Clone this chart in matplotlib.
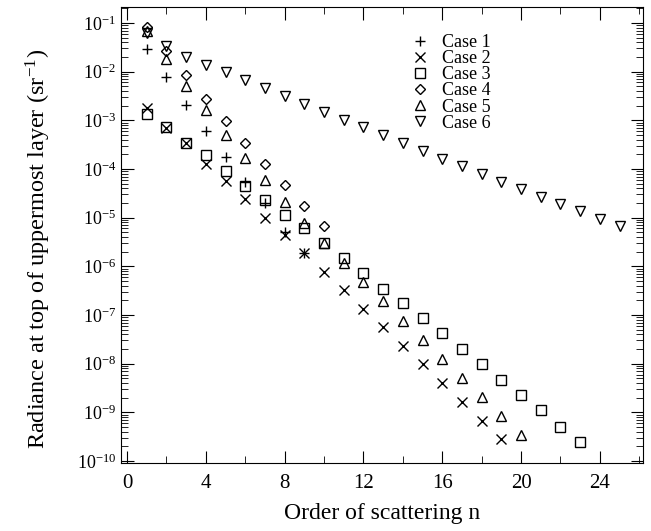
import numpy as np
import matplotlib
matplotlib.use('Agg')
import matplotlib.pyplot as plt
from matplotlib.ticker import LogLocator, MultipleLocator, LogFormatterSciNotation, NullFormatter

plt.rcParams['font.family'] = ['Liberation Serif', 'DejaVu Serif']
plt.rcParams['mathtext.fontset'] = 'stix'

# values (order of scattering n -> radiance)
n1 = [1, 2, 3, 4, 5, 6, 7, 8, 9]
case1 = [2.9e-2, 7.6e-3, 2.1e-3, 5.9e-4, 1.75e-4, 5.5e-5, 2.0e-5, 5.2e-6, 1.86e-6]

n2 = list(range(1, 20))
case2 = [1.8e-3, 7.0e-4, 3.4e-4, 1.27e-4, 5.7e-5, 2.4e-5, 1.0e-5, 4.4e-6, 1.86e-6,
         7.6e-7, 3.3e-7, 1.35e-7, 5.6e-8, 2.3e-8, 9.8e-9, 4.0e-9, 1.65e-9, 6.8e-10, 2.8e-10]

n3 = list(range(1, 24))
case3 = [1.35e-3, 7.2e-4, 3.4e-4, 1.9e-4, 9.3e-5, 4.5e-5, 2.3e-5, 1.15e-5, 6.1e-6,
         3.0e-6, 1.48e-6, 7.2e-7, 3.5e-7, 1.75e-7, 8.7e-8, 4.3e-8, 2.0e-8, 9.8e-9,
         4.7e-9, 2.3e-9, 1.1e-9, 5.1e-10, 2.45e-10]

n4 = list(range(1, 11))
case4 = [8.1e-2, 2.6e-2, 8.5e-3, 2.8e-3, 9.9e-4, 3.4e-4, 1.26e-4, 4.6e-5, 1.75e-5, 6.6e-6]

n5 = list(range(1, 21))
case5 = [6.9e-2, 1.8e-2, 5.1e-3, 1.6e-3, 5.0e-4, 1.66e-4, 6.0e-5, 2.1e-5, 7.9e-6,
         3.0e-6, 1.2e-6, 4.7e-7, 1.9e-7, 7.7e-8, 3.1e-8, 1.26e-8, 5.0e-9, 2.1e-9,
         8.5e-10, 3.5e-10]

n6 = list(range(1, 26))
case6 = [6.1e-2, 3.4e-2, 2.0e-2, 1.4e-2, 9.7e-3, 6.7e-3, 4.6e-3, 3.2e-3, 2.2e-3,
         1.5e-3, 1.0e-3, 7.2e-4, 4.9e-4, 3.4e-4, 2.35e-4, 1.63e-4, 1.15e-4, 8.0e-5,
         5.5e-5, 3.9e-5, 2.6e-5, 1.9e-5, 1.35e-5, 9.3e-6, 6.8e-6]

fig = plt.figure(figsize=(6.51, 5.31), dpi=100)
ax = fig.add_axes([0.186, 0.128, 0.802, 0.859])

ms = 6.5
ax.plot(n1, case1, ls='none', marker='+', ms=ms + 1, mew=1, color='black', label='Case 1')
ax.plot(n2, case2, ls='none', marker='x', ms=ms, mew=1, color='black', label='Case 2')
ax.plot(n3, case3, ls='none', marker='s', ms=ms, mew=1, mfc='none', mec='black', label='Case 3')
ax.plot(n4, case4, ls='none', marker='D', ms=ms - 1.5, mew=1, mfc='none', mec='black', label='Case 4')
ax.plot(n5, case5, ls='none', marker='^', ms=ms, mew=1, mfc='none', mec='black', label='Case 5')
ax.plot(n6, case6, ls='none', marker='v', ms=ms, mew=1, mfc='none', mec='black', label='Case 6')

ax.set_yscale('log')
ax.set_xlim(-0.3, 26.2)
ax.set_ylim(10 ** -10.04, 10 ** -0.67)

ax.xaxis.set_major_locator(MultipleLocator(4))
ax.xaxis.set_minor_locator(MultipleLocator(2))
ax.yaxis.set_major_locator(LogLocator(base=10, numticks=20))
ax.yaxis.set_minor_locator(LogLocator(base=10, subs=np.arange(2, 10), numticks=20))
ax.yaxis.set_major_formatter(LogFormatterSciNotation())
ax.yaxis.set_minor_formatter(NullFormatter())

ax.tick_params(which='both', direction='in', top=True, right=True)
ax.tick_params(which='major', length=9, width=0.8)
ax.tick_params(which='minor', length=5, width=0.6)
ax.tick_params(axis='x', pad=8, labelsize=15)
ax.tick_params(axis='y', labelsize=13)

ax.set_xlabel('Order of scattering n', fontsize=17, labelpad=7)
ax.set_ylabel('Radiance at top of uppermost layer (sr$^{\\mathregular{-1}}$)', fontsize=17.5)
ax.yaxis.set_label_coords(-0.13, 0.47)

ax.legend(loc='upper left', bbox_to_anchor=(0.535, 0.96), frameon=False, fontsize=13,
          labelspacing=-0.05, handletextpad=0.6, handlelength=1.2, borderpad=0)

fig.savefig('out.png', dpi=100)
